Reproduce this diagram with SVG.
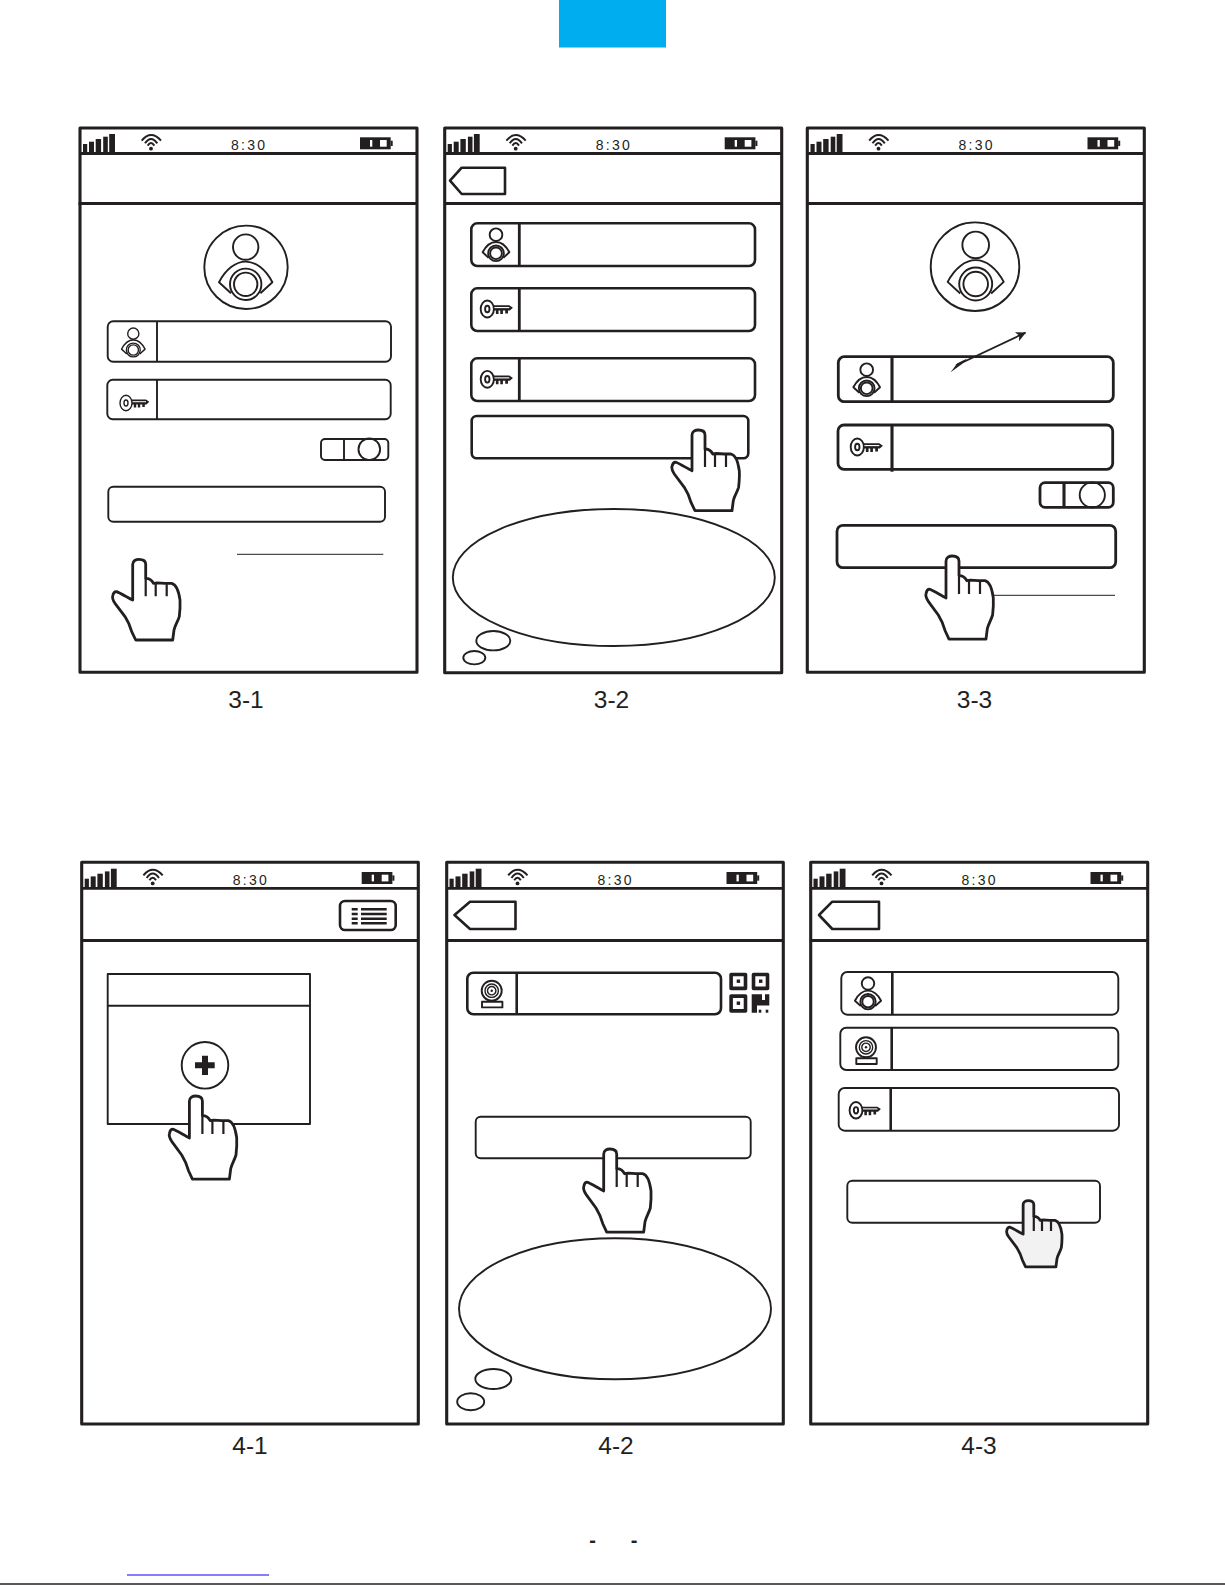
<svg xmlns="http://www.w3.org/2000/svg" width="1225" height="1585" viewBox="0 0 1225 1585">
<style>
.l{fill:none;stroke:#231f20;stroke-linejoin:round}
.f{fill:#fff;stroke:#231f20;stroke-linejoin:round}
.k{fill:#231f20}
.w{fill:#fff}
.ns{vector-effect:non-scaling-stroke}
.s1{stroke-width:1.4}.s2{stroke-width:1.9}.s3{stroke-width:2.6}.s4{stroke-width:2.8}.s5{stroke-width:3.1}
.hand{fill:var(--hf,#fff);stroke:#231f20;stroke-width:2.8;stroke-linejoin:round}
.lab{font-family:"Liberation Sans",Arial,sans-serif;font-size:24.5px;fill:#231f20;text-anchor:middle}
.time{font-family:"Liberation Sans",Arial,sans-serif;font-size:14px;letter-spacing:2.3px;fill:#231f20}
.dash{font-family:"Liberation Sans",Arial,sans-serif;font-size:20px;font-weight:bold;fill:#231f20;text-anchor:middle}
</style>
<defs>
<marker id="ah" viewBox="0 0 10 10" refX="9.5" refY="5" markerWidth="10" markerHeight="10" markerUnits="userSpaceOnUse" orient="auto"><path d="M0,0L10,5L0,10L2.5,5Z" fill="#231f20"/></marker>
<g id="status">
<rect class="k" x="83" y="144" width="4.2" height="9"/>
<rect class="k" x="89" y="141.7" width="5" height="11.3"/>
<rect class="k" x="95.7" y="139" width="5.4" height="14"/>
<rect class="k" x="103.2" y="136.7" width="4.6" height="16.3"/>
<rect class="k" x="109.2" y="134" width="5.8" height="19"/>
<path class="l" stroke-width="2" d="M141.7,140.7Q151,129.5 161,140.7M145,143.3Q151,134.5 157.3,143.3M147.7,145.6Q151,140.5 154.3,145.6"/>
<circle class="k" cx="151" cy="148.7" r="1.9"/>
<text class="time" x="231" y="150">8:30</text>
<rect class="k" x="360" y="137.3" width="30.7" height="12"/>
<rect class="k" x="390.7" y="140.7" width="2" height="5.3"/>
<rect class="w" x="370" y="140" width="2.3" height="6.7"/>
<rect class="w" x="380" y="140" width="6.7" height="6.7"/>
</g>
<g id="person">
<circle class="f ns" cx="0" cy="-37.2" r="12.7"/>
<path class="f ns" d="M-14.7,9L-26.7,-2C-20,-15 -10,-22.7 0,-22.7C10,-22.7 20,-15 26.7,-2L14.7,9"/>
<circle class="f ns" r="15.7"/>
<circle class="f ns" r="11.7"/>
</g>
<g id="key">
<ellipse class="f ns" cx="0" cy="0" rx="6" ry="7.7"/>
<ellipse class="f ns" cx="0" cy="0" rx="2" ry="3"/>
<path class="k" d="M6,-3.4H20L23.3,-1.2L20.5,1.4H18.8V4H16.3V1.4H14.2V4.6H11.8V1.4H10.2V4.6H7.8V1.4H6Z"/>
<rect class="w" x="6.5" y="-1.8" width="13.5" height="1"/>
</g>
<g id="cam">
<circle class="l s2" r="10"/>
<circle class="l s1" r="6.7"/>
<circle class="l s1" r="4.2"/>
<circle class="k" r="1.2"/>
<rect class="k" x="-1.5" y="9.5" width="3" height="2"/>
<rect class="f s2" x="-9.7" y="11" width="20.4" height="5.7"/>
</g>
<path id="handshape" class="hand ns" d="M-6.3,5C-6.3,1.5 -3,0 0,0C4,0 6.7,1.5 6.7,5L6.7,19C10,19 13,21 14.5,24L18.3,23.5L26,24L32.7,24C37,25 39.5,30 41,40.7C41.3,47 41,52 40.3,57.3C38.5,63 36,66 35,70.7L33.7,80.7L-3.3,80.7L-7.3,72.3C-9,66 -11,62 -14,57.3L-24,44C-26,41 -27,39 -26.3,36.5C-25.5,33 -24,32 -22.3,32.3C-18,34 -11,38.5 -6.3,40.7Z"/>
<g id="hand">
<use href="#handshape"/>
<path class="l ns" style="stroke-width:2.2" d="M6.7,19V37M16.7,24V37M27.7,25V37"/>
</g>
</defs>

<rect id="top-tab" x="559" y="0" width="107" height="47.5" fill="#00aeef"/>

<g id="panel-3-1">
<rect class="l s5" x="80" y="128" width="337" height="544.3"/>
<path class="l s4" d="M80,153.5H417M78.5,203.5H417"/>
<use href="#status"/>
<circle class="l s2" cx="246" cy="267.3" r="41.7"/>
<use href="#person" class="s2" transform="translate(245.7,284.3)"/>
<rect class="l s2" x="107.7" y="321.3" width="283.3" height="40.4" rx="5.5"/>
<path class="l s2" d="M157,321.3V361.7"/>
<use href="#person" class="s1" transform="translate(133.3,350) scale(.44)"/>
<rect class="l s2" x="107.3" y="379.7" width="283.4" height="39.6" rx="5.5"/>
<path class="l s2" d="M157,379.7V419.3"/>
<use href="#key" class="s1" transform="translate(126,403)"/>
<rect class="l s2" x="321" y="439" width="67.3" height="21" rx="4"/>
<path class="l s2" d="M344,439V460"/>
<circle class="l s2" cx="369.3" cy="449.3" r="10.8"/>
<rect class="l s2" x="108.3" y="486.7" width="276.7" height="35" rx="5"/>
<use href="#hand" transform="translate(139,559.3)"/>
</g>

<g id="panel-3-2">
<rect class="l s5" x="444.7" y="128" width="337" height="544.7"/>
<path class="l s4" d="M444.7,153.5H781.7M444.7,203.5H781.7"/>
<use href="#status" transform="translate(364.7,0)"/>
<path class="l s3" d="M505,167.7H461.7L450,180.7L461.7,194H505Z"/>
<rect class="l s3" x="471.3" y="223.3" width="283.7" height="42.7" rx="6"/>
<path class="l s4" d="M519.3,223.3V266"/>
<use href="#person" class="s2" transform="translate(496,253.3) scale(.5)"/>
<rect class="l s3" x="471.3" y="288.3" width="283.7" height="42.7" rx="6"/>
<path class="l s4" d="M519.3,288.3V331"/>
<use href="#key" class="s2" transform="translate(487.3,309) scale(1.1)"/>
<rect class="l s3" x="471.3" y="358.3" width="283.7" height="42.7" rx="6"/>
<path class="l s4" d="M519.3,358.3V401"/>
<use href="#key" class="s2" transform="translate(487.3,379.3) scale(1.1)"/>
<rect class="l s3" x="471.7" y="416" width="276.6" height="42.3" rx="5"/>
<use href="#hand" transform="translate(698.3,430)"/>
<ellipse class="l s2" cx="613.8" cy="577.5" rx="161" ry="68.5"/>
<ellipse class="l s2" cx="493.3" cy="640.7" rx="17" ry="9.7"/>
<ellipse class="l s2" cx="474.3" cy="657.7" rx="11" ry="6.7"/>
</g>

<g id="panel-3-3">
<rect class="l s5" x="807.3" y="128" width="337" height="544.3"/>
<path class="l s4" d="M807.3,153.5H1144.3M807.3,203.5H1144.3"/>
<use href="#status" transform="translate(727.5,0)"/>
<circle class="l s2" cx="975" cy="266.7" r="44.3"/>
<use href="#person" class="s2" transform="translate(975.7,284) scale(1.05)"/>
<rect class="l s4" x="838.3" y="356.7" width="275" height="45" rx="6"/>
<path class="l s5" d="M892,356.7V401.7"/>
<use href="#person" class="s2" transform="translate(866.7,388.3) scale(.5)"/>
<rect class="l s4" x="838" y="425" width="274.7" height="44.3" rx="6"/>
<path class="l s5" d="M892,425V471.7"/>
<use href="#key" class="s2" transform="translate(857.3,447) scale(1.1)"/>
<rect class="l s4" x="1040" y="482.7" width="73.3" height="24.6" rx="5"/>
<path class="l s5" d="M1064,482.7V507.3"/>
<circle class="l s2" cx="1092.3" cy="495" r="12.6"/>
<rect class="l s4" x="837" y="525.3" width="278.7" height="42.4" rx="6"/>
<use href="#hand" transform="translate(952.3,556) scale(1,1.03)"/>
</g>

<g id="panel-4-1">
<rect class="l s5" x="81.7" y="862.3" width="336.6" height="561.7"/>
<path class="l s4" d="M81.7,888.3H418.3M81.7,940.5H418.3"/>
<use href="#status" transform="translate(1.7,734.7)"/>
<rect class="l s3" x="340" y="901" width="55.7" height="29" rx="5"/>
<path class="l s3" d="M351.7,909.3H357.7M361,909.3H386.7M351.7,914H357.7M361,914H386.7M351.7,918.7H357.7M361,918.7H386.7M351.7,923.3H357.7M361,923.3H386.7"/>
<rect class="l s2" x="107.7" y="974" width="202.3" height="150"/>
<path class="l s2" d="M107.7,1005.7H310"/>
<circle class="l s2" cx="205" cy="1065.3" r="23.3"/>
<path class="k" d="M202,1055.7H208V1062.3H214.7V1068.3H208V1075H202V1068.3H195V1062.3H202Z"/>
<use href="#hand" transform="translate(195.7,1096) scale(1,1.03)"/>
</g>

<g id="panel-4-2">
<rect class="l s5" x="446.7" y="862.3" width="336.6" height="561.7"/>
<path class="l s4" d="M446.7,888.3H783.3M446.7,940.5H783.3"/>
<use href="#status" transform="translate(366.5,734.7)"/>
<path class="l s3" d="M515.5,901.7H470L454.5,915L470,929H515.5Z"/>
<rect class="l s3" x="467.3" y="972.7" width="253.7" height="41.6" rx="6"/>
<path class="l s3" d="M516.7,972.7V1014.3"/>
<use href="#cam" transform="translate(491.7,990.7)"/>
<g id="qr">
<rect class="l" stroke-width="3.6" x="731.1" y="974.5" width="14.4" height="13.9"/>
<rect class="k" x="736.7" y="979.5" width="3.4" height="3.4"/>
<rect class="l" stroke-width="3.6" x="753.5" y="974.5" width="14" height="13.9"/>
<rect class="k" x="759" y="979.5" width="3.4" height="3.4"/>
<rect class="l" stroke-width="3.6" x="731.1" y="996.1" width="14.4" height="14.8"/>
<rect class="k" x="736.7" y="1001.5" width="3.4" height="3.4"/>
<path class="k" d="M751.7,994.3H762V1000H765V994.3H769.3V1005.5H757V1012.7H751.7Z"/>
<rect class="k" x="758.7" y="1009.7" width="2.6" height="3"/>
<rect class="k" x="765.7" y="1009.7" width="2.6" height="3"/>
</g>
<rect class="l s2" x="475.7" y="1116.7" width="275" height="41.6" rx="5"/>
<use href="#hand" transform="translate(610,1149) scale(1,1.03)"/>
<ellipse class="l s2" cx="615" cy="1308.8" rx="156" ry="70.5"/>
<ellipse class="l s2" cx="493.3" cy="1379" rx="18" ry="10"/>
<ellipse class="l s2" cx="470.7" cy="1401.7" rx="13.5" ry="8.5"/>
</g>

<g id="panel-4-3">
<rect class="l s5" x="810.7" y="862.3" width="337" height="561.7"/>
<path class="l s4" d="M810.7,888.3H1147.7M810.7,940.5H1147.7"/>
<use href="#status" transform="translate(730.5,734.7)"/>
<path class="l s3" d="M879,901.7H832.3L819,915L832.3,929H879Z"/>
<rect class="l s2" x="841.3" y="972" width="277" height="42.7" rx="6"/>
<path class="l s3" d="M892.3,972V1014.7"/>
<use href="#person" class="s2" transform="translate(868,1001.7) scale(.49)"/>
<rect class="l s2" x="840.3" y="1027.7" width="278" height="42.3" rx="6"/>
<path class="l s3" d="M891.7,1027.7V1070"/>
<use href="#cam" transform="translate(866,1047.3)"/>
<rect class="l s2" x="838.7" y="1088" width="280.3" height="42.7" rx="6"/>
<path class="l s3" d="M890.7,1088V1130.7"/>
<use href="#key" class="s2" transform="translate(856,1110.3) scale(1.07)"/>
<rect class="l s2" x="847.3" y="1180.7" width="252.7" height="42" rx="5"/>
<use href="#hand" style="--hf:#f2f2f2" transform="translate(1028.3,1200.7) scale(.82)"/>
</g>

<g id="connectors">
<line class="l" stroke-width="1" x1="237" y1="554.3" x2="383.3" y2="554.3"/>
<line class="l" stroke-width="1" x1="994" y1="595.3" x2="1115" y2="595.3"/>
<line class="l" stroke-width="1.8" x1="956" y1="365.5" x2="1025.5" y2="332.6" marker-end="url(#ah)"/>
<path class="k" d="M950.7,372.3L957,363.5L967,358.5L962,364Z"/>
</g>

<g id="labels">
<text class="lab" x="246" y="707.5">3-1</text>
<text class="lab" x="611.5" y="707.5">3-2</text>
<text class="lab" x="974.5" y="707.5">3-3</text>
<text class="lab" x="250" y="1454">4-1</text>
<text class="lab" x="616" y="1454">4-2</text>
<text class="lab" x="979" y="1454">4-3</text>
<text class="dash" x="592.5" y="1547">-</text>
<text class="dash" x="634" y="1547">-</text>
</g>
<line id="link-rule" x1="127" y1="1575" x2="269" y2="1575" stroke="#0000ff" stroke-width="1"/>
<line id="page-rule" x1="0" y1="1584" x2="1225" y2="1584" stroke="#231f20" stroke-width="1.3"/>
</svg>
